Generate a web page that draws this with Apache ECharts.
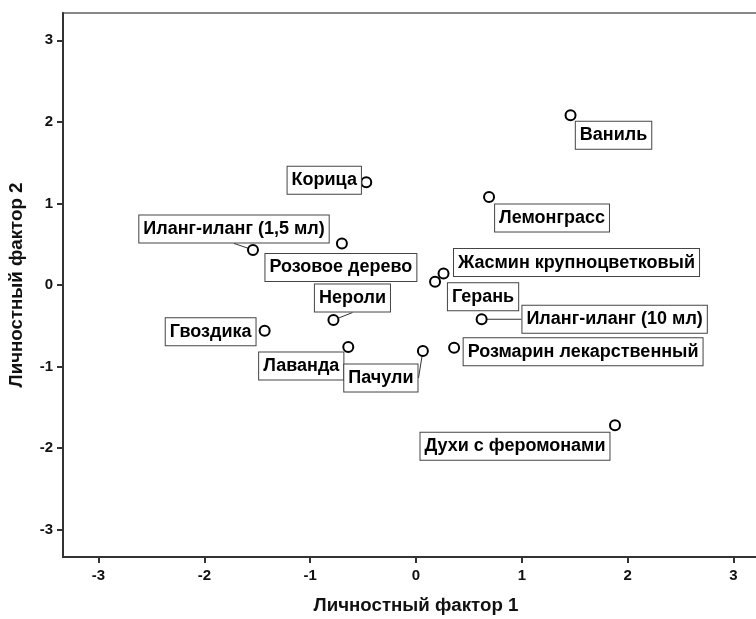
<!DOCTYPE html>
<html>
<head>
<meta charset="utf-8">
<script src="https://cdn.jsdelivr.net/npm/echarts@6/dist/echarts.min.js"></script>
<style>html,body{margin:0;padding:0;background:#fff}#c{width:756px;height:619px}</style>
</head>
<body>
<div id="c"></div>
<script>
const names = ['Ваниль','Корица','Лемонграсс','Иланг-иланг (1,5 мл)','Розовое дерево','Жасмин крупноцветковый','Герань','Иланг-иланг (10 мл)','Нероли','Гвоздика','Лаванда','Пачули','Розмарин лекарственный','Духи с феромонами'];
const factor1 = [1.46,-0.47,0.69,-1.54,-0.70,0.26,0.18,0.62,-0.78,-1.43,-0.64,0.065,0.36,1.88];
const factor2 = [2.08,1.26,1.08,0.43,0.51,0.14,0.04,-0.42,-0.43,-0.56,-0.76,-0.81,-0.77,-1.72];
const tickValues = [-3,-2,-1,0,1,2,3];
const xTitle = 'Личностный фактор 1';
const yTitle = 'Личностный фактор 2';
// label placement (style): box-centre offsets in px from the point, and whether a leader line is drawn
const labelShift = [[43,20],[-42,-2],[63,21],[-19,-21],[-1,24],[133,-11],[48,15],[133,0],[19,-22],[-54,1],[-47,19],[-42,27],[129,4],[-100,21]];
const leader = [false,false,false,true,false,false,false,true,true,false,false,true,false,false];

const FONT = '"Liberation Sans", Arial, sans-serif';
const chart = echarts.init(document.getElementById('c'));
const axisCommon = {
  min: -3.335, max: 3.335,
  splitLine: {show: false},
  axisLine: {show: true, onZero: false, lineStyle: {color: '#333', width: 2}},
  axisTick: {show: true, customValues: tickValues, length: 6, lineStyle: {color: '#333', width: 2}},
  axisLabel: {customValues: tickValues, color: '#111', fontWeight: 'bold', fontSize: 15, fontFamily: FONT},
  nameLocation: 'middle',
  nameTextStyle: {color: '#111', fontWeight: 'bold', fontSize: 18.7, fontFamily: FONT}
};
chart.setOption({
  animation: false,
  grid: {left: 63, top: 13, right: -13, bottom: 62, outerBoundsMode: 'none', show: true, borderColor: '#888', borderWidth: 2},
  xAxis: Object.assign({}, axisCommon, {type: 'value', name: xTitle, nameGap: 39,
    axisLabel: Object.assign({}, axisCommon.axisLabel, {margin: 11})}),
  yAxis: Object.assign({}, axisCommon, {type: 'value', name: yTitle, nameGap: 37,
    axisLabel: Object.assign({}, axisCommon.axisLabel, {margin: 10})}),
  series: [{
    type: 'scatter',
    symbol: 'circle',
    symbolSize: 10,
    itemStyle: {color: '#fff', borderColor: '#000', borderWidth: 2, opacity: 1},
    data: names.map((n, i) => ({name: n, value: [factor1[i], factor2[i]], labelLine: {show: leader[i]}})),
    label: {
      show: true,
      position: 'inside',
      formatter: p => p.name,
      color: '#000',
      fontWeight: 'bold',
      fontSize: 18,
      fontFamily: FONT,
      backgroundColor: '#fff',
      borderColor: '#444',
      borderWidth: 1,
      padding: [5, 4, 4, 4]
    },
    labelLine: {show: false, lineStyle: {color: '#333', width: 1}},
    labelLayout: p => ({dx: labelShift[p.dataIndex][0], dy: labelShift[p.dataIndex][1]}),
    z: 3
  }]
});
</script>
</body>
</html>
